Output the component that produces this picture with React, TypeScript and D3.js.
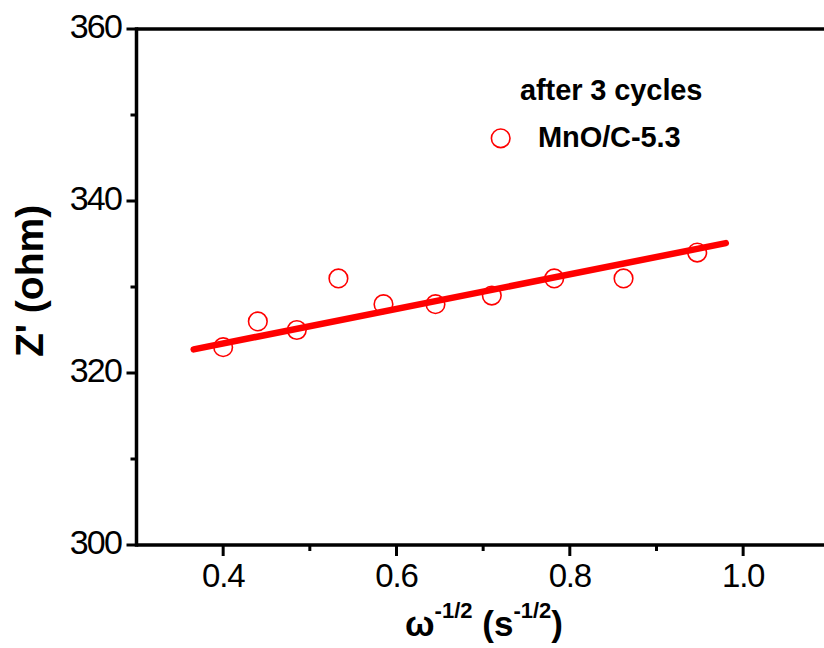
import React from "react";
import * as d3 from "d3";

const xValues = [0.4, 0.44, 0.485, 0.533, 0.585, 0.645, 0.71, 0.782, 0.862, 0.947];
const zValues = [323.0, 326.0, 325.0, 331.0, 328.0, 328.0, 329.0, 331.0, 331.0, 334.0];
const fitX = [0.366, 0.98];
const fitY = [322.75, 335.1];
const xMajorTicks = [0.4, 0.6, 0.8, 1.0];
const xMinorTicks = [0.5, 0.7, 0.9];
const yMajorTicks = [300, 320, 340, 360];
const yMinorTicks = [310, 330, 350];
const legendTitle = "after 3 cycles";
const seriesName = "MnO/C-5.3";

const W = 824;
const H = 648;
const FONT = "'Liberation Sans', Arial, sans-serif";
const RED = "#ff0000";

export default function App() {
  const x = d3.scaleLinear().domain([0.3, 1.1]).range([136.5, 829.8]);
  const y = d3.scaleLinear().domain([300, 360]).range([545, 29]);
  const line = d3
    .line<number>()
    .x((_, i) => x(fitX[i]))
    .y((d) => y(d));

  const axisW = 3.5;
  const tickW = 3;

  return (
    <svg
      width={W}
      height={H}
      viewBox={`0 0 ${W} ${H}`}
      style={{ position: "absolute", left: 0, top: 0, background: "#fff" }}
    >
      <rect x={0} y={0} width={W} height={H} fill="#fff" />
      {/* fit line */}
      <path
        d={line(fitY) || ""}
        fill="none"
        stroke={RED}
        strokeWidth={6.5}
        strokeLinecap="round"
      />
      {/* data points */}
      {xValues.map((v, i) => (
        <circle
          key={i}
          cx={x(v)}
          cy={y(zValues[i])}
          r={9.3}
          fill="none"
          stroke={RED}
          strokeWidth={1.6}
        />
      ))}
      {/* axes frame */}
      <line x1={x(0.3)} x2={x(1.1)} y1={y(300)} y2={y(300)} stroke="#000" strokeWidth={axisW} />
      <line x1={x(0.3)} x2={x(1.1)} y1={y(360)} y2={y(360)} stroke="#000" strokeWidth={axisW} />
      <line x1={x(0.3)} x2={x(0.3)} y1={y(300) + axisW / 2} y2={y(360) - axisW / 2} stroke="#000" strokeWidth={axisW} />
      <line x1={x(1.1)} x2={x(1.1)} y1={y(300)} y2={y(360)} stroke="#000" strokeWidth={axisW} />
      {/* x ticks */}
      {xMajorTicks.map((t) => (
        <g key={"xm" + t}>
          <line x1={x(t)} x2={x(t)} y1={y(300)} y2={y(300) + 11} stroke="#000" strokeWidth={tickW} />
          <text
            x={x(t)}
            y={y(300) + 41.5}
            textAnchor="middle"
            fontFamily={FONT}
            fontSize={33}
            letterSpacing={-1.2}
            fill="#000"
          >
            {t.toFixed(1)}
          </text>
        </g>
      ))}
      {xMinorTicks.map((t) => (
        <line key={"xn" + t} x1={x(t)} x2={x(t)} y1={y(300)} y2={y(300) + 6} stroke="#000" strokeWidth={tickW} />
      ))}
      {/* y ticks */}
      {yMajorTicks.map((t) => (
        <g key={"ym" + t}>
          <line x1={x(0.3)} x2={x(0.3) - 10} y1={y(t)} y2={y(t)} stroke="#000" strokeWidth={tickW} />
          <text
            x={121}
            y={y(t) + 9}
            textAnchor="end"
            fontFamily={FONT}
            fontSize={34}
            letterSpacing={-1.8}
            fill="#000"
          >
            {String(t)}
          </text>
        </g>
      ))}
      {yMinorTicks.map((t) => (
        <line key={"yn" + t} x1={x(0.3)} x2={x(0.3) - 6} y1={y(t)} y2={y(t)} stroke="#000" strokeWidth={tickW} />
      ))}
      {/* y label */}
      <text
        transform={`translate(43, 281) rotate(-90)`}
        textAnchor="middle"
        fontFamily={FONT}
        fontSize={39}
        fontWeight="bold"
        fill="#000"
      >
        Z' (ohm)
      </text>
      {/* x label */}
      <text
        x={484}
        y={636}
        textAnchor="middle"
        fontFamily={FONT}
        fontWeight="bold"
        fontSize={35}
        fill="#000"
      >
        <tspan>ω</tspan>
        <tspan fontSize={22} dy={-18}>-1/2</tspan>
        <tspan dy={18}> (s</tspan>
        <tspan fontSize={22} dy={-18}>-1/2</tspan>
        <tspan dy={18}>)</tspan>
      </text>
      {/* legend */}
      <text x={520} y={100} fontFamily={FONT} fontWeight="bold" fontSize={29} letterSpacing={-0.1} fill="#000">
        {legendTitle}
      </text>
      <circle cx={500.7} cy={138.3} r={9.3} fill="none" stroke={RED} strokeWidth={1.6} />
      <text x={538} y={147} fontFamily={FONT} fontWeight="bold" fontSize={29} letterSpacing={-0.1} fill="#000">
        {seriesName}
      </text>
    </svg>
  );
}
